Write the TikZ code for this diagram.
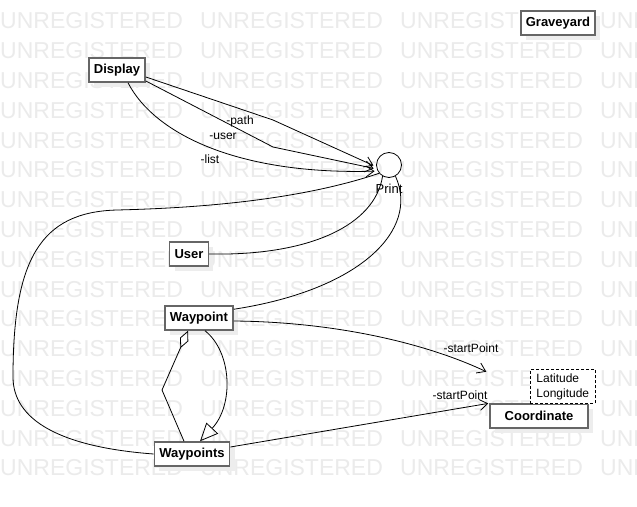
\documentclass[tikz,border=0pt]{standalone}
\usepackage{fontspec}
\setmainfont{Liberation Sans}
\usetikzlibrary{arrows.meta,shadows}
\tikzset{
  umlclass/.style={draw=black!60, line width=1.5pt, fill=white, inner xsep=5pt,
    minimum height=24pt, font=\bfseries\fontsize{13}{15}\selectfont,
    drop shadow={shadow xshift=5pt, shadow yshift=-5pt, fill=black!7, opacity=1}},
  rel/.style={draw=black, line width=0.8pt},
  openarrow/.style={rel, -{Straight Barb[length=8pt, width=11pt]}, shorten >=3pt},
  rolelabel/.style={font=\fontsize{12}{14}\selectfont, inner sep=1pt},
  watermark/.style={text=black!8, font=\fontsize{23}{25}\selectfont, anchor=west, inner sep=0pt}
}
\begin{document}
\begin{tikzpicture}[x=1pt, y=-1pt]
	\useasboundingbox (0,0) rectangle (637,506);
	\fill[white] (0,0) rectangle (637,506);
	\clip (0,0) rectangle (637,506);
      \foreach \r in {0,...,15}
	\foreach \c in {0,...,3}
	  {
	      \node[watermark] (wm-\r-\c) at (\c*200, 21+\r*29.8) {UNREGISTERED};
	  }
	% classes
	\node[umlclass] (graveyard) at (558,23) {Graveyard};
	\node[umlclass] (display) at (117,70) {Display};
	\node[umlclass] (user) at (189,254) {User};
	\node[umlclass] (waypoint) at (199,318) {Waypoint};
	\node[umlclass] (waypoints) at (192,454) {Waypoints};
	\node[umlclass, minimum width=98pt] (coordinate) at (539,416) {Coordinate};
	\node[draw, dashed, dash pattern=on 3pt off 2pt, line width=0.8pt, fill=white, align=left,
	  inner xsep=6pt, inner ysep=4pt, font=\fontsize{12}{15}\selectfont, anchor=north west]
	  (latlong) at (530,369) {Latitude\\Longitude};
	\node[circle, draw, line width=0.8pt, minimum size=25pt, inner sep=0pt] (print) at (389,165) {};
	\node[font=\fontsize{13}{15}\selectfont, inner sep=0pt] (printlbl) at (389,189) {Print};
	\coordinate (startin) at (489,373);

	  \draw [openarrow] ([yshift=-7pt]display.east) -- (273,120) -- (print.188);
	  \draw [openarrow] ([yshift=-11pt]display.east) -- (273,147) -- (print.198);
	  \draw [openarrow] ([xshift=11pt]display.south) .. controls (155,135) and (240,175) .. (print.208);
	  \node[rolelabel] (pathlbl) at (240,121) {-path};
	  \node[rolelabel] (userlbl) at (223,136) {-user};
	  \node[rolelabel] (listlbl) at (210,159) {-list};

	  \draw [rel] (waypoints.west) .. controls (60,447) and (13,420) .. (13,377)
	    .. controls (13,260) and (40,212) .. (117,210)
	    .. controls (200,208) and (300,200) .. (print.220);
	  \draw [rel] (user.east) .. controls (310,256) and (375,225) .. (print.240);
	  \draw [rel] ([yshift=-4pt]waypoint.north east) .. controls (360,290) and (420,230) .. (print.-60);

	  \draw [openarrow] ([yshift=-3pt]waypoint.east) .. controls (340,322) and (430,345) .. (startin);
	  \draw [openarrow, shorten >=1pt] ([yshift=7pt]waypoints.east) -- (coordinate.north west);
	  \node[rolelabel] (startlbla) at (471,348) {-startPoint};
	  \node[rolelabel] (startlblb) at (460,395) {-startPoint};

	  \draw [rel, {Diamond[open, length=19pt, width=9pt]}-] ([xshift=-11pt]waypoint.south)
	    -- (162,390) -- ([xshift=-8pt]waypoints.north);
	  \draw [rel, -{Triangle[open, length=18pt, width=16pt]}] ([xshift=6pt]waypoint.south)
	    .. controls (232,352) and (234,405) .. ([xshift=8pt]waypoints.north);
    \end{tikzpicture}
\end{document}
